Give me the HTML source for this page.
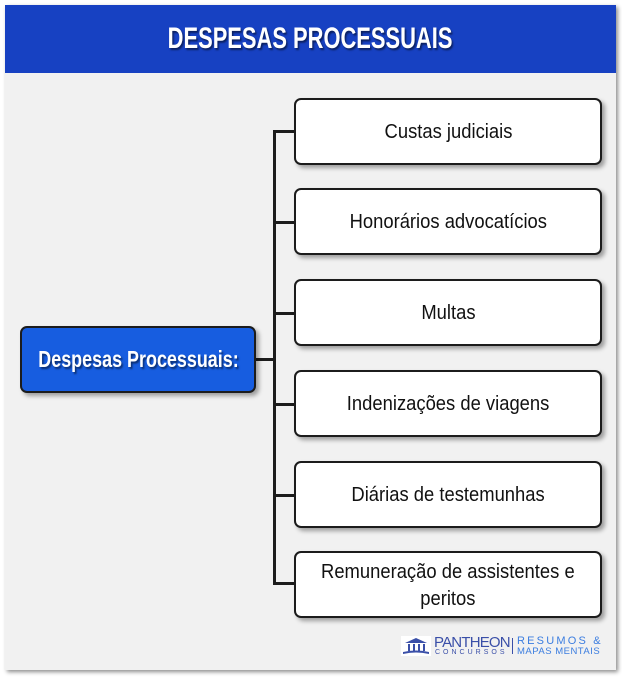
<!DOCTYPE html>
<html><head><meta charset="utf-8"><style>
html,body{margin:0;padding:0;background:#fff;width:622px;height:677px;overflow:hidden}
*{box-sizing:border-box}
.frame{position:absolute;left:5px;top:5px;width:611px;height:665px;background:#f1f1f1;box-shadow:2px 2px 4px rgba(0,0,0,.45)}
.hdr{position:absolute;left:5px;top:5px;width:611px;height:68px;background:#1741c2;color:#fff;font:bold 30px "Liberation Sans",sans-serif;text-align:center;line-height:68px;text-shadow:2px 2px 2px rgba(0,0,0,.5);white-space:nowrap}
.hdr span{display:inline-block;transform:scaleX(0.73)}
.box{position:absolute;left:294px;width:308px;height:67px;background:#fff;border:2.5px solid #1c1c1c;border-radius:7px;box-shadow:3px 3px 4px rgba(0,0,0,.35);display:flex;align-items:center;justify-content:center;text-align:center;font:20px "Liberation Sans",sans-serif;color:#111;line-height:27px;white-space:nowrap;padding-top:2px}
.box span{display:inline-block;transform:scaleX(0.92)}
.main{position:absolute;left:20px;top:326px;width:236px;height:67px;background:#175de0;border:2.5px solid #1c1c1c;border-radius:7px;box-shadow:3px 3px 4px rgba(0,0,0,.35);display:flex;align-items:center;justify-content:center;color:#fff;font:bold 23px "Liberation Sans",sans-serif;text-shadow:2px 2px 2px rgba(0,0,0,.5);white-space:nowrap}
.main span{display:inline-block;transform:scaleX(0.78)}
.l{position:absolute;background:#1c1c1c}
.logo{position:absolute;left:401px;top:636px;font-family:"Liberation Sans",sans-serif}
</style></head><body>
<div class="frame"></div>
<div class="hdr"><span>DESPESAS PROCESSUAIS</span></div>
<div class="l" style="left:273px;top:130px;width:2.5px;height:454px"></div>
<div class="l" style="left:255px;top:358px;width:20px;height:2.5px"></div>
<div class="l" style="left:273px;top:130px;width:22px;height:2.5px"></div>
<div class="l" style="left:273px;top:221px;width:22px;height:2.5px"></div>
<div class="l" style="left:273px;top:312px;width:22px;height:2.5px"></div>
<div class="l" style="left:273px;top:403px;width:22px;height:2.5px"></div>
<div class="l" style="left:273px;top:494px;width:22px;height:2.5px"></div>
<div class="l" style="left:273px;top:582px;width:22px;height:2.5px"></div>
<div class="main"><span>Despesas Processuais:</span></div>
<div class="box" style="top:98px"><span>Custas judiciais</span></div>
<div class="box" style="top:188px"><span>Honorários advocatícios</span></div>
<div class="box" style="top:279px"><span>Multas</span></div>
<div class="box" style="top:370px"><span>Indenizações de viagens</span></div>
<div class="box" style="top:461px"><span>Diárias de testemunhas</span></div>
<div class="box" style="top:551px"><span>Remuneração de assistentes e<br>peritos</span></div>
<div class="logo">
<svg width="30" height="20" style="position:absolute;left:0;top:0;background:#fff"><rect x="0" y="0" width="30" height="20" fill="#fff"/><polygon points="4,7 15,2 26,7" fill="#3a4fa8"/><rect x="7" y="8" width="2" height="7" fill="#3a4fa8"/><rect x="12" y="8" width="2" height="7" fill="#3a4fa8"/><rect x="17" y="8" width="2" height="7" fill="#3a4fa8"/><rect x="22" y="8" width="2" height="7" fill="#3a4fa8"/><path d="M2 16 Q15 13 28 16 L28 18 Q15 15 2 18Z" fill="#3a4fa8"/></svg>
<div style="position:absolute;left:33px;top:-2px;font-size:15px;color:#3a4fa8;letter-spacing:-0.8px;white-space:nowrap">PANTHEON</div>
<div style="position:absolute;left:34px;top:13px;font-size:7px;color:#3a4fa8;letter-spacing:3px;white-space:nowrap">CONCURSOS</div>
<div style="position:absolute;left:111px;top:2px;width:1px;height:16px;background:#3a4fa8"></div>
<div style="position:absolute;left:116px;top:-1px;font-size:11px;color:#3b7de0;letter-spacing:2.2px;white-space:nowrap">RESUMOS &amp;</div>
<div style="position:absolute;left:116px;top:10px;font-size:9.5px;color:#3b7de0;letter-spacing:0.5px;white-space:nowrap">MAPAS MENTAIS</div>
</div>
</body></html>
